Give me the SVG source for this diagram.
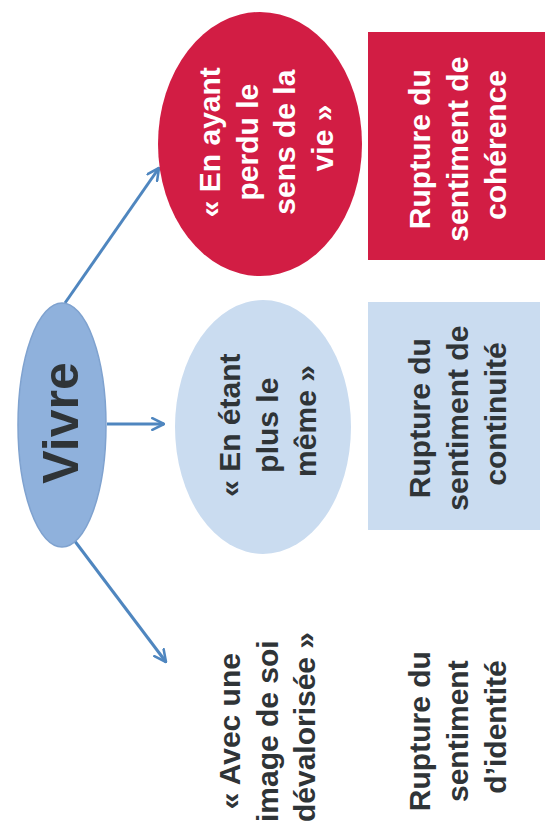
<svg xmlns="http://www.w3.org/2000/svg" width="545" height="830" viewBox="0 0 545 830">
  <defs>
    <marker id="arr" viewBox="0 0 12 12" refX="11" refY="6" markerWidth="14" markerHeight="14" markerUnits="userSpaceOnUse" orient="auto">
      <path d="M1,1 L11,6 L1,11" fill="none" stroke="#4f86bf" stroke-width="2.2" stroke-linecap="round" stroke-linejoin="round"/>
    </marker>
    <style>
      .t { font-family: "Liberation Sans", Arial, sans-serif; font-weight: bold; font-size: 30px; text-anchor: middle; }
      .dark { fill: #2f3437; }
      .white { fill: #ffffff; }
      .conn { stroke: #4f86bf; stroke-width: 3; fill: none; marker-end: url(#arr); }
    </style>
  </defs>
  <rect width="545" height="830" fill="#ffffff"/>

  <g id="connectors">
    <line class="conn" x1="65" y1="303" x2="159" y2="168"/>
    <line class="conn" x1="107" y1="424" x2="164" y2="424"/>
    <line class="conn" x1="74" y1="540" x2="166" y2="662"/>
  </g>

  <g id="vivre">
    <ellipse cx="62" cy="425" rx="44" ry="122" fill="#8fb1dc" stroke="#7fa2cf" stroke-width="1.5"/>
    <text class="t dark" style="font-size:50px" transform="translate(78,423) rotate(-90)" x="0" y="0">Vivre</text>
  </g>

  <g id="sens-vie">
    <ellipse cx="260" cy="144" rx="102" ry="132" fill="#d21d44"/>
    <text class="t white" transform="translate(220,138) rotate(-90)">
      <tspan x="0" y="0">« En ayant</tspan>
      <tspan x="0" y="37.5">perdu le</tspan>
      <tspan x="0" y="75">sens de la</tspan>
      <tspan x="0" y="112.5">vie »</tspan>
    </text>
  </g>

  <g id="coherence">
    <rect x="368" y="32" width="177" height="228" fill="#d21d44"/>
    <text class="t white" transform="translate(430,145) rotate(-90)">
      <tspan x="0" y="0">Rupture du</tspan>
      <tspan x="0" y="38">sentiment de</tspan>
      <tspan x="0" y="76">cohérence</tspan>
    </text>
  </g>

  <g id="meme">
    <ellipse cx="263" cy="427" rx="88" ry="127" fill="#cadcf0"/>
    <text class="t dark" transform="translate(240,421) rotate(-90)">
      <tspan x="0" y="0">« En étant</tspan>
      <tspan x="0" y="38">plus le</tspan>
      <tspan x="0" y="76">même »</tspan>
    </text>
  </g>

  <g id="continuite">
    <rect x="368" y="302" width="172" height="228" fill="#cadcf0"/>
    <text class="t dark" transform="translate(430,414) rotate(-90)">
      <tspan x="0" y="0">Rupture du</tspan>
      <tspan x="0" y="38">sentiment de</tspan>
      <tspan x="0" y="76">continuité</tspan>
    </text>
  </g>

  <g id="image-soi">
    <text class="t dark" transform="translate(240,727) rotate(-90)">
      <tspan x="0" y="0">« Avec une</tspan>
      <tspan x="0" y="37.5">image de soi</tspan>
      <tspan x="0" y="75">dévalorisée »</tspan>
    </text>
  </g>

  <g id="identite">
    <text class="t dark" transform="translate(430,727) rotate(-90)">
      <tspan x="0" y="0">Rupture du</tspan>
      <tspan x="0" y="38">sentiment</tspan>
      <tspan x="0" y="76">d’identité</tspan>
    </text>
  </g>
</svg>
